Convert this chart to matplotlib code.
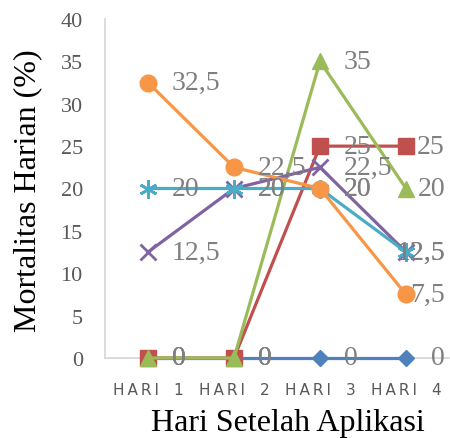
import matplotlib
matplotlib.use("Agg")
import matplotlib.pyplot as plt

categories = ["HARI 1", "HARI 2", "HARI 3", "HARI 4"]
blue_vals = [0, 0, 0, 0]
red_vals = [0, 0, 25, 25]
green_vals = [0, 0, 35, 20]
purple_vals = [12.5, 20, 22.5, 12.5]
cyan_vals = [20, 20, 20, 12.5]
orange_vals = [32.5, 22.5, 20, 7.5]
y_ticks = [0, 5, 10, 15, 20, 25, 30, 35, 40]

series = [
    (blue_vals, "#4F81BD", "D", 8),
    (red_vals, "#C0504D", "s", 12),
    (green_vals, "#9BBB59", "^", 12),
    (purple_vals, "#8064A2", "x", 12),
    (cyan_vals, "#4BACC6", (6, 2, 0), 13),
    (orange_vals, "#F79646", "o", 12),
]

serif = "Liberation Serif"
fig = plt.figure(figsize=(4.5, 4.39), dpi=100)
ax = fig.add_axes([105 / 450, 80 / 439, 344 / 450, 339 / 439])

x = list(range(len(categories)))
for vals, color, marker, ms in series:
    ax.plot(x, vals, color=color, lw=2.3, marker=marker, markersize=ms,
            markeredgewidth=2 if marker in ("x", (6, 2, 0)) else 1,
            markeredgecolor=color, markerfacecolor=color,
            solid_capstyle="round", clip_on=False, zorder=3)

for vals, color, marker, ms in series:
    for i, v in enumerate(vals):
        txt = f"{v:g}".replace(".", ",")
        if i == len(vals) - 1:
            off, ha = (28, 0), "right"
        else:
            off, ha = (17, 0), "left"
        ax.annotate(txt, (i, v), xytext=off, textcoords="offset points",
                    ha=ha, va="center", fontsize=20, family=serif,
                    color="#7F7F7F", zorder=4, annotation_clip=False)

ax.set_xlim(-0.5, 3.5)
ax.set_ylim(0, 40)
ax.set_yticks(y_ticks)
ax.set_yticklabels([str(t) for t in y_ticks], fontsize=16, family=serif,
                   color="#595959")
ax.set_xticks(x)
spaced = ["\u2009".join(list(c.replace(" ", "\u2009\u2009"))) for c in categories]
ax.set_xticklabels(spaced, fontsize=11, family="DejaVu Sans", color="#595959")
ax.tick_params(axis="y", length=0, pad=16)
ax.tick_params(axis="x", length=0, pad=17)

for s in ("top", "right"):
    ax.spines[s].set_visible(False)
for s in ("left", "bottom"):
    ax.spines[s].set_color("#D9D9D9")
    ax.spines[s].set_linewidth(1.3)

fig.text(28 / 450, 1 - 191 / 439, "Mortalitas Harian (%)", rotation=90,
         ha="center", va="center", fontsize=23, family=serif, color="black")
fig.text(288 / 450, 1 - 424 / 439, "Hari Setelah Aplikasi",
         ha="center", va="center", fontsize=23, family=serif, color="black")

fig.savefig("out.png", dpi=100)
